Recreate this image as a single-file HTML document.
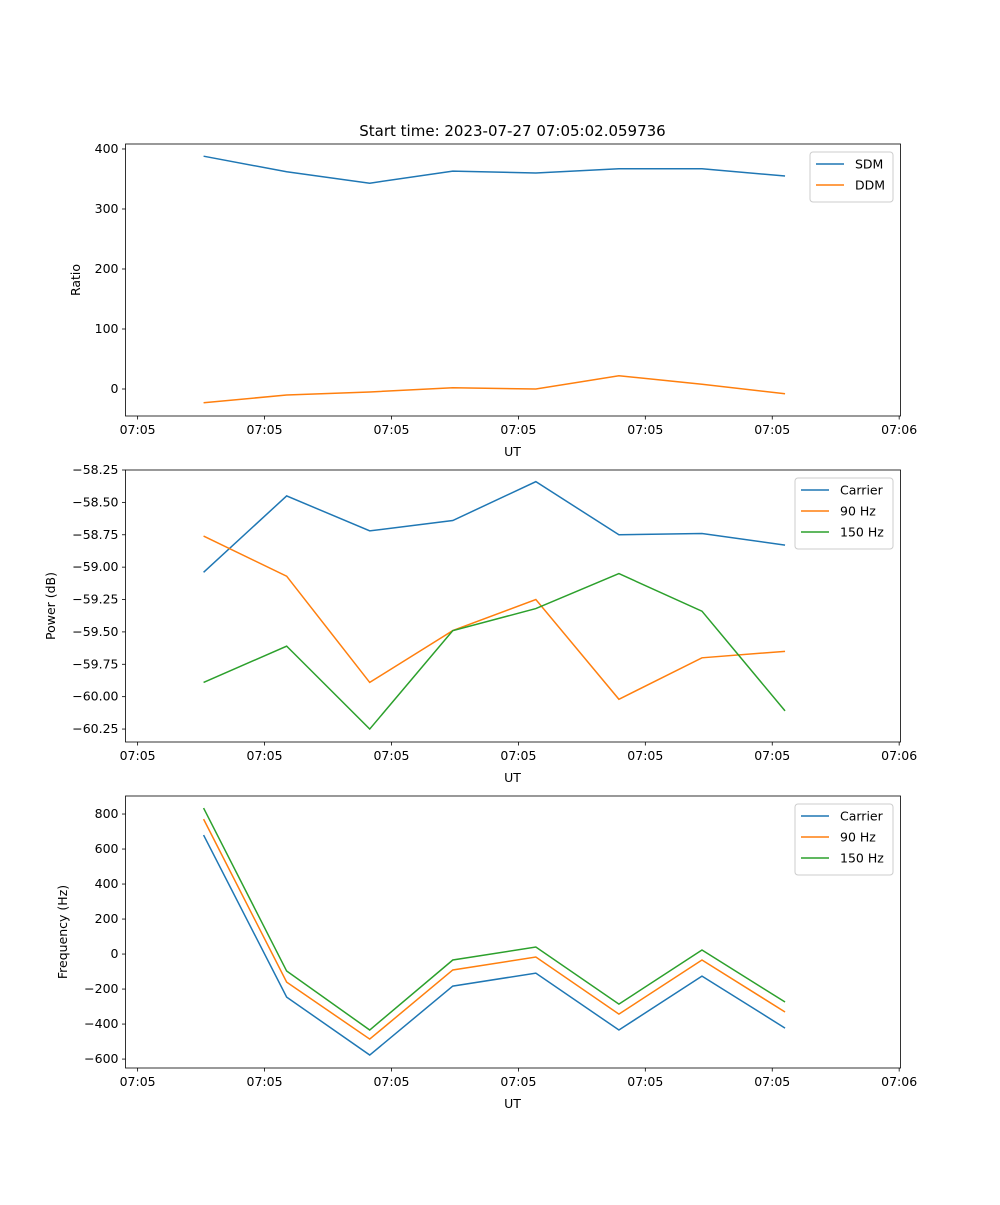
<!DOCTYPE html>
<html><head><meta charset="utf-8"><style>
body{margin:0;background:#fff;}
svg text{font-family:"DejaVu Sans","Liberation Sans",sans-serif;fill:#000;}
</style></head><body>
<svg id="fig" width="1000" height="1200" xmlns="http://www.w3.org/2000/svg"></svg>
<script>
// shared x data (sample index)
const sampleIdx = [0,1,2,3,4,5,6,7];
const xTickPos = [-0.794,0.734,2.262,3.790,5.318,6.846,8.374];
const xTickLabels = ["07:05","07:05","07:05","07:05","07:05","07:05","07:06"];
// panel 1
const sdm = [388,362,343,363,360,367,367,355];
const ddm = [-23,-10,-5,2,0,22,8,-8];
const p1Ticks = [0,100,200,300,400];
// panel 2
const powCarrier = [-59.04,-58.45,-58.72,-58.64,-58.34,-58.75,-58.74,-58.83];
const pow90 = [-58.76,-59.07,-59.89,-59.49,-59.25,-60.02,-59.70,-59.65];
const pow150 = [-59.89,-59.61,-60.25,-59.49,-59.32,-59.05,-59.34,-60.11];
const p2Ticks = [-58.25,-58.5,-58.75,-59.0,-59.25,-59.5,-59.75,-60.0,-60.25];
// panel 3
const frqCarrier = [680,-246,-577,-183,-109,-434,-126,-423];
const frq90 = [771,-160,-486,-91,-17,-343,-34,-331];
const frq150 = [834,-97,-434,-34,40,-286,23,-274];
const p3Ticks = [-600,-400,-200,0,200,400,600,800];

const NS="http://www.w3.org/2000/svg";
const svg=document.getElementById('fig');
function mk(tag,attrs,parent){const e=document.createElementNS(NS,tag);for(const k in attrs)e.setAttribute(k,attrs[k]);(parent||svg).appendChild(e);return e;}
const L=125.5,R=900.5;
const xMin=-0.94,xMax=8.39;
function xs(v){return L+(v-xMin)/(xMax-xMin)*(R-L);}
const C=["#1f77b4","#ff7f0e","#2ca02c"];

function panel(name,top,bot,yMin,yMax,ticks,fmt,series,names,ylabel,legend){
  const g=mk('g',{});
  
  
  const ys=v=>bot-(v-yMin)/(yMax-yMin)*(bot-top);
  series.forEach((s,si)=>{
    const pl=mk('polyline',{points:s.map((v,i)=>xs(sampleIdx[i])+','+ys(v)).join(' '),fill:'none',stroke:C[si],'stroke-width':1.5},g);
    
    
  });
  const fr=mk('rect',{x:L,y:top,width:R-L,height:bot-top,fill:'none',stroke:'#000','stroke-width':0.8},g);
  
  
  ticks.forEach(t=>{
    const y=ys(t);
    mk('line',{x1:L-3.5,x2:L,y1:y,y2:y,stroke:'#000','stroke-width':0.8},g);
    const tx=mk('text',{x:L-7,y:y+4,'text-anchor':'end','font-size':12.5},g);
    tx.textContent=fmt(t);
    
    
  });
  xTickPos.forEach((p,i)=>{
    const x=xs(p);
    mk('line',{x1:x,x2:x,y1:bot,y2:bot+3.5,stroke:'#000','stroke-width':0.8},g);
    const tx=mk('text',{x:x,y:bot+18,'text-anchor':'middle','font-size':12.5},g);
    tx.textContent=xTickLabels[i];
    
    
  });
  const xl=mk('text',{x:512.5,y:bot+40,'text-anchor':'middle','font-size':12.5},g);
  xl.textContent='UT';
  
  
  const yl=mk('text',{x:0,y:0,'text-anchor':'middle','font-size':12.5,transform:`translate(${legend.ylx},${(top+bot)/2}) rotate(-90)`},g);
  yl.textContent=ylabel;
  
  
  const lg=mk('g',{},g);
  
  
  mk('rect',{x:legend.x,y:top+8,width:legend.w,height:8+names.length*21,rx:3,fill:'#fff','fill-opacity':0.8,stroke:'#ccc'},lg);
  names.forEach((n,i)=>{
    const y=top+20+i*21;
    mk('line',{x1:legend.x+6,x2:legend.x+34,y1:y,y2:y,stroke:C[i],'stroke-width':1.5},lg);
    const t=mk('text',{x:legend.x+45,y:y+4.5,'font-size':12.5},lg);
    t.textContent=n;
    
    
  });
}
const title=mk('text',{x:512.5,y:136,'text-anchor':'middle','font-size':15});
title.textContent='Start time: 2023-07-27 07:05:02.059736';



panel('ratio-panel',144,416,-45,408.3,p1Ticks,v=>v===0?'0':String(v),[sdm,ddm],['SDM','DDM'],'Ratio',{x:810,w:83,ylx:80});
panel('power-panel',470,742,-60.35,-58.25,p2Ticks,v=>'\u2212'+Math.abs(v).toFixed(2),[powCarrier,pow90,pow150],['Carrier','90 Hz','150 Hz'],'Power (dB)',{x:795,w:98,ylx:55});
panel('frequency-panel',796,1068,-651,903,p3Ticks,v=>v<0?'\u2212'+Math.abs(v):String(v),[frqCarrier,frq90,frq150],['Carrier','90 Hz','150 Hz'],'Frequency (Hz)',{x:795,w:98,ylx:67});
</script>
</body></html>
